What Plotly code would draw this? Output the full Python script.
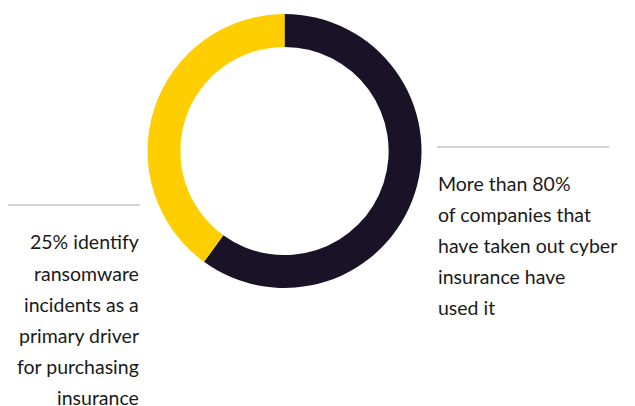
import plotly.graph_objects as go

W, H = 635, 406
OX, OY = 8, 8  # page body margin offset in the browser

labels = ["Used cyber insurance", "Other"]
values = [60, 40]
colors = ["#1a1226", "#ffce00"]

left_lines = ["25% identify", "ransomware", "incidents as a", "primary driver",
              "for purchasing", "insurance"]
right_lines = ["More than 80%", "of companies that", "have taken out cyber",
               "insurance have", "used it"]

cx, cy, r = 284.5 - OX, 151 - OY, 137


def px(x):
    return (x - OX) / W


def py(y):
    return 1 - (y - OY) / H


fig = go.Figure(go.Pie(
    labels=labels, values=values, hole=0.76, sort=False,
    direction="clockwise", rotation=0,
    marker=dict(colors=colors, line=dict(width=0)),
    textinfo="none", hoverinfo="label+percent",
    domain=dict(x=[(cx - r) / W, (cx + r) / W],
                y=[(H - cy - r) / H, (H - cy + r) / H]),
))

font = dict(family="Lato, 'Open Sans', sans-serif", size=19.5, color="#1a1a1a")
ann = []
for i, t in enumerate(left_lines):
    ann.append(dict(text=t, x=px(141), y=py(242 + 31 * i), xref="paper", yref="paper",
                    xanchor="right", yanchor="middle", showarrow=False, font=font))
for i, t in enumerate(right_lines):
    ann.append(dict(text=t, x=px(436), y=py(183 + 31 * i), xref="paper", yref="paper",
                    xanchor="left", yanchor="middle", showarrow=False, font=font))

shapes = [
    dict(type="line", xref="paper", yref="paper", x0=px(-10), x1=px(140),
         y0=py(205), y1=py(205), line=dict(color="#aaaaaa", width=1.2)),
    dict(type="line", xref="paper", yref="paper", x0=px(437), x1=px(609),
         y0=py(147), y1=py(147), line=dict(color="#aaaaaa", width=1.2)),
]

fig.update_layout(width=W, height=H, margin=dict(l=0, r=0, t=0, b=0),
                  paper_bgcolor="white", plot_bgcolor="white", showlegend=False,
                  annotations=ann, shapes=shapes)
fig.write_html("out.html")
